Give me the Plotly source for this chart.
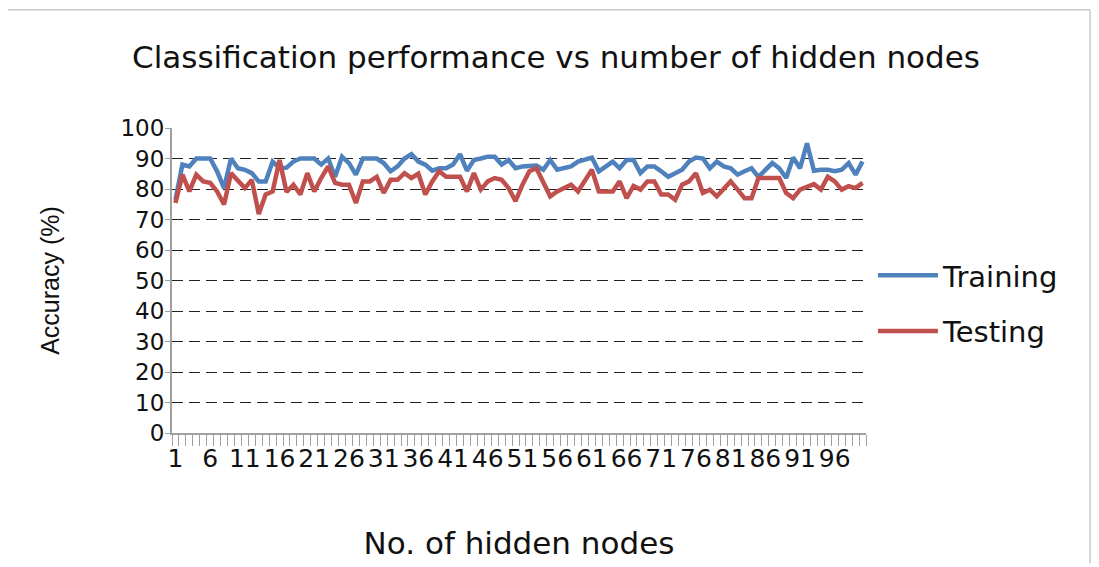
import plotly.graph_objects as go

nodes = list(range(1, 101))

training = [76.5, 88, 87.4, 90, 90, 90, 85.8, 80.3, 90, 86.8,
            86.3, 85.2, 82.5, 82.5, 89, 86.8, 87, 89, 90, 90,
            90, 88, 90, 84, 90.6, 88.5, 84.7, 90, 90, 90,
            88.5, 85.8, 87.4, 90, 91.4, 89, 88, 86, 86.8, 86.8,
            88, 91.4, 86, 89.5, 90, 90.6, 90.6, 88, 89.5, 86.8,
            87.4, 87.7, 87.7, 86.3, 89.5, 86.3, 86.8, 87.4, 89, 89.5,
            90.3, 85.8, 87.4, 89, 86.8, 89.5, 89.5, 85.2, 87.4, 87.4,
            85.8, 84, 85.2, 86.3, 89, 90.3, 90, 86.8, 89, 87.4,
            86.8, 84.7, 85.8, 86.8, 84, 86.3, 88.5, 86.8, 83.6, 90.3,
            86.8, 95, 86, 86.3, 86.3, 85.8, 86.3, 88.5, 84.7, 89]

testing = [75.4, 84.7, 79.2, 84.7, 82.5, 82, 79.2, 74.9, 85.2, 83,
           80.3, 83, 71.8, 78.2, 79.2, 89.5, 79, 81.4, 78.2, 85.2,
           79.2, 83.6, 87.4, 82, 81.4, 81.4, 75.4, 82.5, 82.5, 84,
           78.7, 83, 83, 85.2, 83.6, 85, 78.2, 82.5, 85.8, 84,
           84, 84, 79.2, 85.2, 79.8, 82.5, 83.6, 83, 80.3, 76,
           81.4, 85.8, 86.8, 82, 77.6, 79.2, 80.3, 81.4, 79.2, 83,
           86.3, 79.2, 79.2, 79.2, 82.5, 77, 81, 79.8, 82.5, 82.5,
           78.2, 78.2, 76.5, 81.4, 82.5, 85.2, 78.7, 79.8, 77.6, 80.3,
           82.5, 79.8, 77, 77, 83.6, 83.6, 83.6, 83.6, 78.7, 77,
           79.8, 80.9, 81.6, 79.8, 84, 82.5, 79.8, 80.9, 80.3, 82]

label_nodes = [1, 6, 11, 16, 21, 26, 31, 36, 41, 46, 51, 56, 61, 66, 71, 76, 81, 86, 91, 96]
y_ticks = [0, 10, 20, 30, 40, 50, 60, 70, 80, 90, 100]

WIDE = "DejaVu Sans"
NARROW = "Liberation Sans"
TXT = "#111111"
AXIS = "#A0A0A0"

# the page adds an 8 px body margin; the figure is sized to compensate
W, H = 1091, 559

fig = go.Figure()
fig.add_trace(go.Scatter(x=nodes, y=training, mode="lines", name="Training",
                         legendgroup="a",
                         line=dict(color="#4F81BD", width=4.5)))
fig.add_trace(go.Scatter(x=nodes, y=testing, mode="lines", name="Testing",
                         legendgroup="b",
                         line=dict(color="#C0504D", width=4.5)))

fig.update_layout(
    width=W, height=H,
    margin=dict(l=164, r=233, t=120, b=132),
    paper_bgcolor="white", plot_bgcolor="white",
    font=dict(family=WIDE, color=TXT, size=24),
    title=dict(text="Classification performance vs number of hidden nodes",
               x=548 / W, xref="container", xanchor="center",
               y=1 - 49 / H, yref="container", yanchor="middle",
               font=dict(family=WIDE, size=31, color=TXT)),
    showlegend=True,
    legend=dict(x=1.01, xanchor="left", y=0.425, yanchor="middle",
                font=dict(family=WIDE, size=29, color=TXT),
                itemwidth=60, tracegroupgap=15, bgcolor="rgba(0,0,0,0)"),
    xaxis=dict(range=[0.5, 100.5], tickmode="array", tickvals=label_nodes,
               ticktext=[str(v) for v in label_nodes], ticks="",
               showgrid=False, zeroline=False, showline=True,
               linecolor=AXIS, linewidth=2,
               tickfont=dict(family=WIDE, size=25, color=TXT),
               ticklabelstandoff=2,
               minor=dict(tickmode="array",
                          tickvals=[v - 0.5 for v in nodes] + [100.5],
                          ticks="outside", ticklen=11, tickcolor=AXIS,
                          tickwidth=1, showgrid=False),
               title=dict(text="No. of hidden nodes", standoff=60,
                          font=dict(family=WIDE, size=31, color=TXT))),
    yaxis=dict(range=[0, 100], tickmode="array", tickvals=y_ticks,
               showgrid=True, gridcolor="#222222", griddash="11px,6px", gridwidth=1.3,
               zeroline=False, showline=True, linecolor=AXIS, linewidth=2,
               ticks="outside", ticklen=5, tickcolor=AXIS,
               ticklabelstandoff=-4,
               tickfont=dict(family=WIDE, size=23, color=TXT),
               title=dict(text="Accuracy (%)", standoff=54,
                          font=dict(family=NARROW, size=25, color=TXT))),
)

# outer chart-area border (top and right edges)
top_y = (435 - 9) / 307
right_x = (1090 - 172) / 694
fig.add_shape(type="line", xref="paper", yref="paper",
              x0=(8 - 172) / 694, x1=right_x, y0=top_y, y1=top_y,
              line=dict(color="#C8C8C8", width=1.5))
fig.add_shape(type="line", xref="paper", yref="paper",
              x0=right_x, x1=right_x, y0=top_y, y1=(435 - 566) / 307,
              line=dict(color="#C8C8C8", width=1.5))

fig.write_html("out.html")
